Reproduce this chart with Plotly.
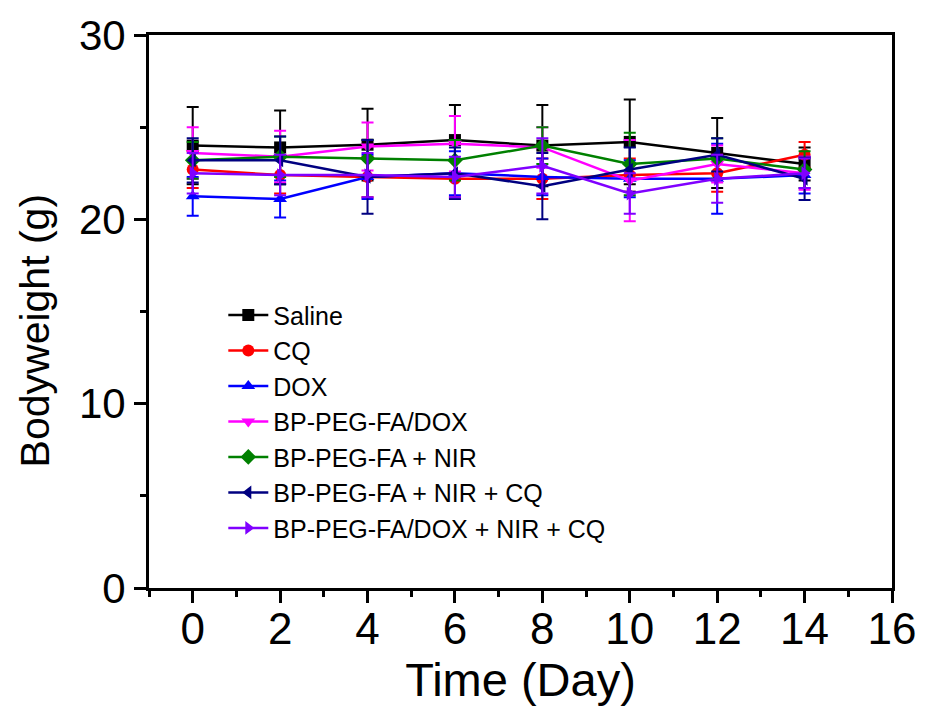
import plotly.graph_objects as go

days = [0, 2, 4, 6, 8, 10, 12, 14]

names = ["Saline", "CQ", "DOX", "BP-PEG-FA/DOX", "BP-PEG-FA + NIR",
         "BP-PEG-FA + NIR + CQ", "BP-PEG-FA/DOX + NIR + CQ"]

saline = [24.0, 23.9, 24.05, 24.3, 24.0, 24.2, 23.6, 23.0]
cq = [22.7, 22.4, 22.3, 22.2, 22.2, 22.4, 22.5, 23.5]
dox = [21.25, 21.1, 22.3, 22.5, 22.3, 22.2, 22.2, 22.4]
bp_dox = [23.6, 23.4, 23.95, 24.1, 23.9, 22.1, 23.0, 22.5]
bp_nir = [23.2, 23.4, 23.3, 23.2, 24.0, 23.0, 23.3, 22.7]
bp_nir_cq = [23.2, 23.2, 22.3, 22.5, 21.8, 22.7, 23.5, 22.2]
bp_dox_nir_cq = [22.5, 22.4, 22.4, 22.3, 22.9, 21.4, 22.2, 22.5]

saline_err = [2.1, 2.0, 1.95, 1.9, 2.2, 2.3, 1.9, 0.9]
cq_err = [1.0, 1.0, 1.1, 1.0, 1.1, 0.9, 1.0, 0.7]
dox_err = [1.05, 1.0, 1.2, 1.2, 1.0, 1.0, 1.9, 1.0]
bp_dox_err = [1.4, 1.4, 1.3, 1.5, 1.1, 2.2, 1.0, 0.9]
bp_nir_err = [1.0, 1.1, 1.0, 1.1, 1.0, 1.7, 1.1, 1.0]
bp_nir_cq_err = [1.2, 1.3, 2.0, 1.4, 1.8, 1.2, 0.9, 1.15]
bp_dox_nir_cq_err = [1.1, 1.1, 1.2, 1.1, 1.5, 1.1, 1.3, 0.8]

values = [saline, cq, dox, bp_dox, bp_nir, bp_nir_cq, bp_dox_nir_cq]
errors = [saline_err, cq_err, dox_err, bp_dox_err, bp_nir_err, bp_nir_cq_err, bp_dox_nir_cq_err]
colors = ["#000000", "#ff0000", "#0000ff", "#ff00ff", "#008000", "#000080", "#8000ff"]
symbols = ["square", "circle", "triangle-up", "triangle-down", "diamond", "triangle-left", "triangle-right"]

fig = go.Figure()
for n, v, e, c, s in zip(names, values, errors, colors, symbols):
    fig.add_trace(go.Scatter(
        x=days, y=v, name=n, mode="lines+markers",
        line=dict(color=c, width=2.5),
        marker=dict(symbol=s, color=c, size=12),
        error_y=dict(type="data", array=e, color=c, thickness=2, width=6),
    ))

fig.update_layout(
    width=928, height=713,
    margin=dict(l=149, r=26, t=33, b=125),
    paper_bgcolor="white", plot_bgcolor="white",
    font=dict(family="Liberation Sans, Arial, sans-serif", color="black"),
    showlegend=True,
    legend=dict(x=0.1, y=0.535, xanchor="left", yanchor="top",
                font=dict(size=25), bgcolor="rgba(0,0,0,0)",
                tracegroupgap=0, itemwidth=40),
    xaxis=dict(
        range=[-1, 16], tickmode="array", tickvals=[0, 2, 4, 6, 8, 10, 12, 14, 16],
        ticks="outside", ticklen=12, tickwidth=3, tickcolor="black",
        showline=True, linewidth=3, linecolor="black", mirror=True,
        showgrid=False, zeroline=False,
        tickfont=dict(size=44), ticklabelstandoff=-12,
        minor=dict(ticks="outside", ticklen=6, tickwidth=3, tickcolor="black", dtick=1),
        title=dict(text="Time (Day)", font=dict(size=47), standoff=2),
    ),
    yaxis=dict(
        range=[0, 30], tickmode="array", tickvals=[0, 10, 20, 30],
        ticks="outside", ticklen=12, tickwidth=3, tickcolor="black",
        showline=True, linewidth=3, linecolor="black", mirror=True,
        showgrid=False, zeroline=False,
        tickfont=dict(size=42),
        minor=dict(ticks="outside", ticklen=6, tickwidth=3, tickcolor="black", dtick=5),
    ),
    annotations=[dict(
        text="Bodyweight (g)", textangle=-90, showarrow=False,
        xref="paper", yref="paper", x=-0.154, y=0.465,
        xanchor="center", yanchor="middle", font=dict(size=41),
    )],
)

fig.write_html("out.html")
